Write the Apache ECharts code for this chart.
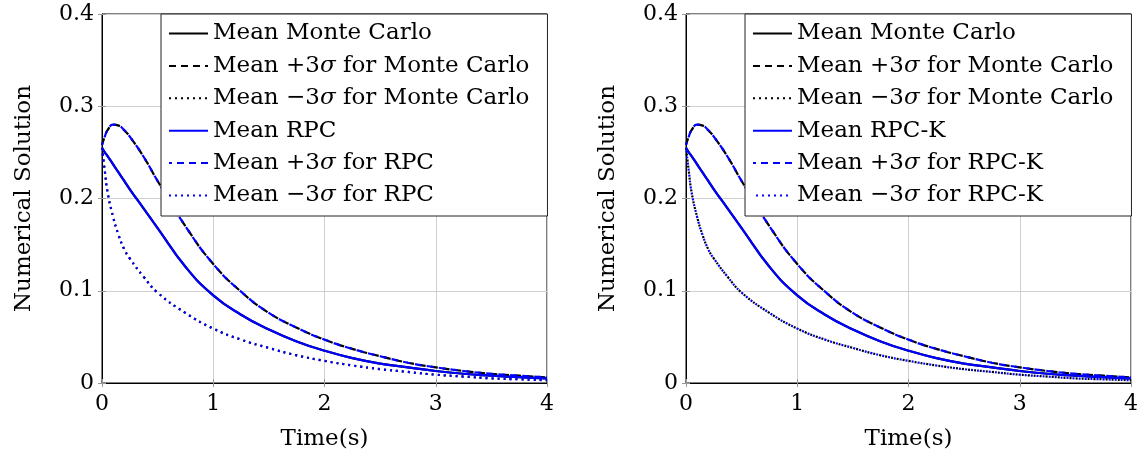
<!DOCTYPE html>
<html><head><meta charset="utf-8">
<script src="https://cdn.jsdelivr.net/npm/echarts@6/dist/echarts.min.js"></script>
<style>html,body{margin:0;padding:0;background:#fff}#c{width:1141px;height:459px}</style>
</head><body><div id="c"></div>
<script>
// time samples (s)
const timeS = [0, 0.025, 0.05, 0.1, 0.15, 0.2, 0.25, 0.375, 0.5, 0.75, 1, 1.25, 1.5, 1.75, 2, 2.25, 2.5, 2.75, 3, 3.25, 3.5, 3.75, 4];
// Monte Carlo
const mcMean  = [0.255, 0.250, 0.246, 0.237, 0.228, 0.219, 0.210, 0.189, 0.168, 0.126, 0.095, 0.074, 0.058, 0.045, 0.035, 0.027, 0.021, 0.017, 0.013, 0.010, 0.008, 0.0063, 0.005];
const mcPlus  = [0.258, 0.267, 0.274, 0.280, 0.279, 0.274, 0.267, 0.245, 0.219, 0.170, 0.129, 0.099, 0.076, 0.060, 0.047, 0.037, 0.029, 0.022, 0.017, 0.013, 0.010, 0.008, 0.006];
const mcMinus = [0.255, 0.230, 0.207, 0.180, 0.160, 0.145, 0.135, 0.115, 0.098, 0.076, 0.059, 0.047, 0.038, 0.030, 0.024, 0.019, 0.015, 0.012, 0.009, 0.007, 0.005, 0.004, 0.003];
// RPC (left panel)
const rpcMean  = [0.255, 0.250, 0.246, 0.237, 0.228, 0.219, 0.210, 0.189, 0.168, 0.126, 0.095, 0.074, 0.058, 0.045, 0.035, 0.027, 0.021, 0.017, 0.013, 0.010, 0.008, 0.0063, 0.005];
const rpcPlus  = [0.258, 0.267, 0.274, 0.280, 0.279, 0.274, 0.267, 0.245, 0.219, 0.170, 0.129, 0.099, 0.076, 0.060, 0.047, 0.037, 0.029, 0.022, 0.017, 0.013, 0.010, 0.008, 0.006];
const rpcMinus = [0.255, 0.230, 0.207, 0.180, 0.160, 0.145, 0.135, 0.115, 0.098, 0.076, 0.059, 0.047, 0.038, 0.030, 0.024, 0.019, 0.015, 0.012, 0.009, 0.007, 0.005, 0.004, 0.003];
// RPC-K (right panel)
const rpckMean  = [0.255, 0.250, 0.246, 0.237, 0.228, 0.219, 0.210, 0.189, 0.168, 0.126, 0.095, 0.074, 0.058, 0.045, 0.035, 0.027, 0.021, 0.017, 0.013, 0.010, 0.008, 0.0063, 0.005];
const rpckPlus  = [0.258, 0.267, 0.274, 0.280, 0.279, 0.274, 0.267, 0.245, 0.219, 0.170, 0.129, 0.099, 0.076, 0.060, 0.047, 0.037, 0.029, 0.022, 0.017, 0.013, 0.010, 0.008, 0.006];
const rpckMinus = [0.255, 0.230, 0.207, 0.180, 0.160, 0.145, 0.135, 0.115, 0.098, 0.076, 0.059, 0.047, 0.038, 0.030, 0.024, 0.019, 0.015, 0.012, 0.009, 0.007, 0.005, 0.004, 0.003];
// ticks
const xTicks = [0, 1, 2, 3, 4];
const yTicks = [0, 0.1, 0.2, 0.3, 0.4];

const FONT = 'DejaVu Serif';
const pairs = (ys) => timeS.map((t, i) => [t, ys[i]]);

const DASH = [7, 5], DOT = [2, 4];
const mcNames = ['Mean Monte Carlo', 'Mean +3σ for Monte Carlo', 'Mean −3σ for Monte Carlo'];
const rpcNames = ['Mean RPC', 'Mean +3σ for RPC', 'Mean −3σ for RPC'];
const rpckNames = ['Mean RPC-K', 'Mean +3σ for RPC-K', 'Mean −3σ for RPC-K'];

function line(name, data, g, color, type, offset) {
  return {
    name, type: 'line', xAxisIndex: g * 2, yAxisIndex: g * 2, data: pairs(data),
    showSymbol: false, symbol: 'none', smooth: 0.5, animation: false,
    lineStyle: { color, width: 2.2, type, dashOffset: offset || 0 },
    itemStyle: { color }
  };
}

const grids = [
  { left: 102, width: 445, top: 14, height: 369 },
  { left: 686, width: 445, top: 14, height: 369 }
];

const xAxes = [], yAxes = [];
grids.forEach((g, i) => {
  xAxes.push({
    type: 'value', gridIndex: i, min: xTicks[0], max: xTicks[xTicks.length - 1], interval: 1,
    axisLine: { show: true, onZero: false, lineStyle: { color: '#000', width: 1 } },
    axisTick: { show: true, inside: true, length: 4, lineStyle: { color: '#999' } },
    axisLabel: { fontFamily: FONT, fontSize: 22, color: '#000', margin: 10 },
    splitLine: { show: true, lineStyle: { color: '#d0d0d0', width: 1 } },
    name: 'Time(s)', nameLocation: 'middle', nameGap: 45,
    nameTextStyle: { fontFamily: FONT, fontSize: 23, color: '#000' }
  });
  xAxes.push({
    type: 'value', gridIndex: i, position: 'top', min: 0, max: 4, interval: 1,
    axisLine: { show: false }, axisLabel: { show: false }, splitLine: { show: false },
    axisTick: { show: true, inside: true, length: 4, lineStyle: { color: '#999' } }
  });
  yAxes.push({
    type: 'value', gridIndex: i, min: yTicks[0], max: yTicks[yTicks.length - 1], interval: 0.1,
    axisLine: { show: true, onZero: false, lineStyle: { color: '#000', width: 1 } },
    axisTick: { show: true, inside: true, length: 4, lineStyle: { color: '#999' } },
    axisLabel: { fontFamily: FONT, fontSize: 22, color: '#000', margin: 8 },
    splitLine: { show: true, lineStyle: { color: '#d0d0d0', width: 1 } },
    name: 'Numerical Solution', nameLocation: 'middle', nameGap: 66,
    nameTextStyle: { fontFamily: FONT, fontSize: 23, color: '#000' }
  });
  yAxes.push({
    type: 'value', gridIndex: i, position: 'right', min: 0, max: 0.4, interval: 0.1,
    axisLine: { show: false }, axisLabel: { show: false }, splitLine: { show: false },
    axisTick: { show: true, inside: true, length: 4, lineStyle: { color: '#999' } }
  });
});

const series = [
  line(mcNames[0], mcMean, 0, '#000', 'solid'),
  line(mcNames[1], mcPlus, 0, '#000', DASH),
  line(mcNames[2], mcMinus, 0, '#000', DOT),
  line(rpcNames[0], rpcMean, 0, '#0000ff', 'solid'),
  line(rpcNames[1], rpcPlus, 0, '#0000ff', DASH, 4),
  line(rpcNames[2], rpcMinus, 0, '#0000ff', DOT),
  line(mcNames[0], mcMean, 1, '#000', 'solid'),
  line(mcNames[1], mcPlus, 1, '#000', DASH),
  line(mcNames[2], mcMinus, 1, '#000', DOT),
  line(rpckNames[0], rpckMean, 1, '#0000ff', 'solid'),
  line(rpckNames[1], rpckPlus, 1, '#0000ff', DASH, 4),
  line(rpckNames[2], rpckMinus, 1, '#0000ff', DOT, 3)
];

function legend(left, names) {
  return {
    orient: 'vertical', left, top: 14, data: names,
    itemWidth: 39, itemHeight: 14, itemGap: 9.4,
    padding: [8, 18, 9, 7],
    backgroundColor: '#fff', borderColor: '#222', borderWidth: 1,
    selectedMode: false,
    itemStyle: { color: 'rgba(0,0,0,0)', borderColor: 'rgba(0,0,0,0)', borderWidth: 0, opacity: 0 },
    formatter: (n) => n.replace('σ', '{s|σ}'),
    textStyle: {
      fontFamily: FONT, fontSize: 23, color: '#000',
      rich: { s: { fontFamily: FONT, fontSize: 23, fontStyle: 'italic', color: '#000' } }
    }
  };
}

const chart = echarts.init(document.getElementById('c'), null, { renderer: 'canvas' });
chart.setOption({
  animation: false,
  backgroundColor: '#fff',
  grid: grids.map(g => Object.assign({ show: true, borderColor: '#000', borderWidth: 1, backgroundColor: 'transparent' }, g)),
  xAxis: xAxes,
  yAxis: yAxes,
  legend: [legend(161, mcNames.concat(rpcNames)), legend(745, mcNames.concat(rpckNames))],
  series
});
</script></body></html>
